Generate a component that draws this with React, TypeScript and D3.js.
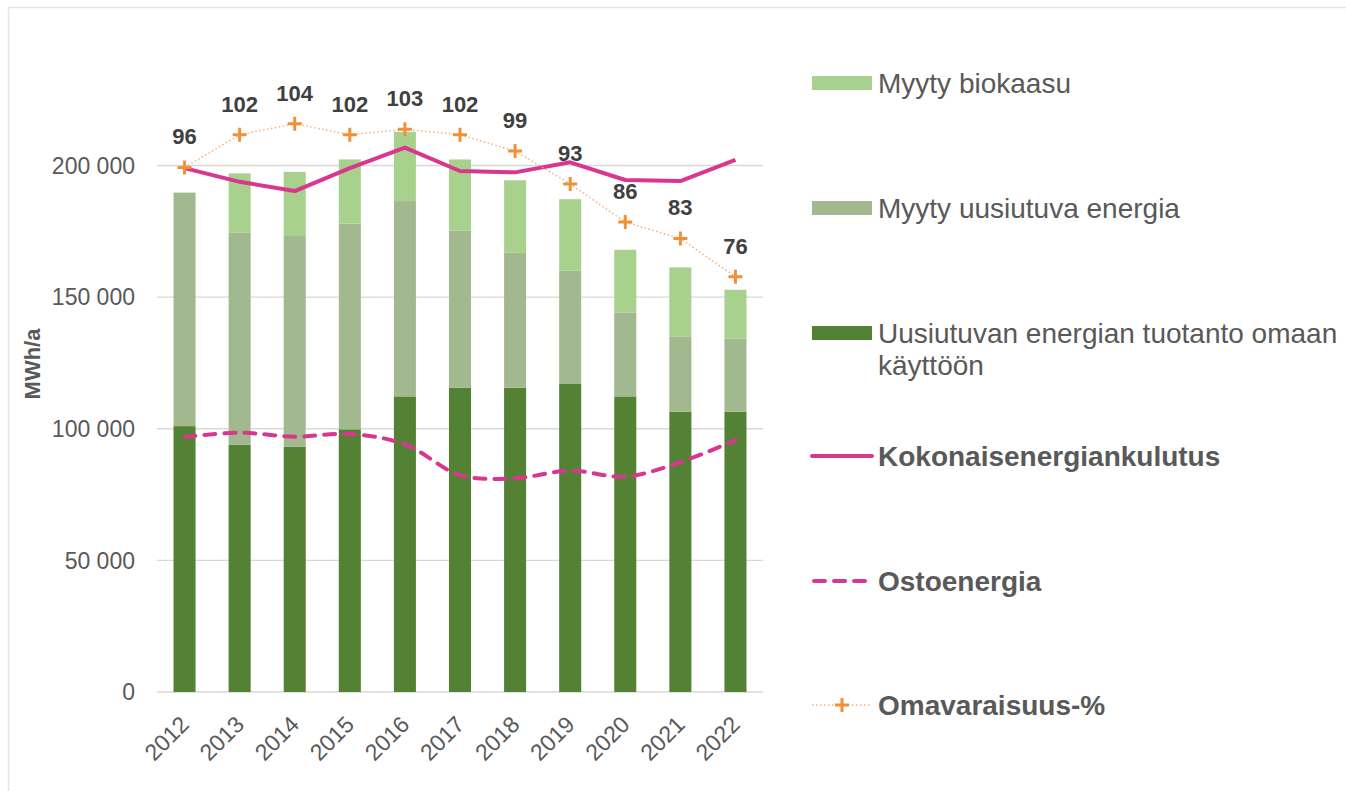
import React from 'react';
import * as d3 from 'd3';

const years = ['2012', '2013', '2014', '2015', '2016', '2017', '2018', '2019', '2020', '2021', '2022'];
// Uusiutuvan energian tuotanto omaan käyttöön
const ownUse = [101000, 94000, 93200, 99800, 112300, 115600, 115600, 117000, 112300, 106500, 106500];
// Myyty uusiutuva energia
const soldRenewable = [88700, 80600, 80000, 78100, 74200, 59600, 51200, 43000, 31900, 28400, 27700];
// Myyty biokaasu
const soldBiogas = [0, 22400, 24400, 24400, 26300, 27100, 27600, 27200, 23800, 26400, 18600];
// Kokonaisenergiankulutus
const totalConsumption = [199000, 193800, 190300, 199000, 206800, 197900, 197400, 201200, 194500, 194100, 202100];
// Ostoenergia
const purchased = [96900, 98500, 97000, 98000, 94100, 82400, 81200, 84100, 81800, 87300, 95700];
// Omavaraisuus-%
const selfSufficiency = [96, 102, 104, 102, 103, 102, 99, 93, 86, 83, 76];

const yTicks = [0, 50000, 100000, 150000, 200000];

const W = 1346;
const H = 791;
const plotLeft = 157;
const plotRight = 763;
const plotBottom = 692;
const yMax = 220000;
const plotTop = plotBottom - (yMax / 100000) * 263.25;

const FONT = "'Liberation Sans', Arial, Helvetica, sans-serif";

const colors = {
  own: '#548235',
  renewable: '#a2b98f',
  biogas: '#a9d18e',
  total: '#d9378f',
  orange: '#f0903a',
  orangeLine: '#f6b07a',
  grid: '#d9d9d9',
  text: '#595959',
  label: '#404040',
};

const fiLocale = d3.formatLocale({ decimal: ',', thousands: ' ', grouping: [3], currency: ['', ''] });
const fmt = fiLocale.format(',d');

export default function App() {
  const x = d3.scaleBand<string>().domain(years).range([plotLeft, plotRight]).paddingInner(0.6).paddingOuter(0.3);
  const xc = (i: number) => (x(years[i]) as number) + x.bandwidth() / 2;
  const y = d3.scaleLinear().domain([0, yMax]).range([plotBottom, plotTop]);
  const y2 = d3.scaleLinear().domain([0, 106]).range([plotBottom, plotTop]);

  const rows = years.map((yr, i) => ({ yr, own: ownUse[i], renewable: soldRenewable[i], biogas: soldBiogas[i] }));
  const keys = ['own', 'renewable', 'biogas'] as const;
  const stack = d3.stack<any>().keys(keys as any)(rows);

  const totalLine = d3.line<number>().x((_, i) => xc(i)).y((d) => y(d))(totalConsumption) as string;
  const purchasedLine = d3
    .line<number>()
    .x((_, i) => xc(i))
    .y((d) => y(d))
    .curve(d3.curveCatmullRom.alpha(0.5))(purchased) as string;
  const selfLine = d3.line<number>().x((_, i) => xc(i)).y((d) => y2(d))(selfSufficiency) as string;

  const legendX = 812;
  const legendTextX = 878;
  const legendFont = 28;

  const plus = (cx: number, cy: number, key: string) => (
    <path
      key={key}
      d={`M${cx - 7},${cy}H${cx + 7}M${cx},${cy - 7}V${cy + 7}`}
      stroke={colors.orange}
      strokeWidth={3}
      fill="none"
    />
  );

  return (
    <svg
      width={W}
      height={H}
      style={{ position: 'absolute', left: 0, top: 0, background: '#fff' }}
      fontFamily={FONT}
    >
      <rect x={0} y={0} width={W} height={H} fill="#fff" />
      <rect x={8.5} y={7.5} width={W + 50} height={H + 50} fill="none" stroke="#e6e6e6" strokeWidth={1.5} />

      {/* gridlines */}
      {yTicks.map((t) => (
        <line key={t} x1={plotLeft} x2={plotRight} y1={y(t)} y2={y(t)} stroke={colors.grid} strokeWidth={1.3} />
      ))}

      {/* y tick labels */}
      {yTicks.map((t) => (
        <text key={'l' + t} x={135} y={y(t)} dy="0.36em" textAnchor="end" fontSize={23} fill={colors.text}>
          {fmt(t)}
        </text>
      ))}

      {/* y title */}
      <text
        transform={`translate(40,364) rotate(-90)`}
        textAnchor="middle"
        fontSize={22}
        fontWeight="bold"
        fill={colors.text}
      >
        MWh/a
      </text>

      {/* bars */}
      {stack.map((series, si) => (
        <g key={si} fill={colors[keys[si]]}>
          {series.map((d, i) =>
            d[1] - d[0] > 0 ? (
              <rect
                key={i}
                x={x(years[i]) as number}
                width={x.bandwidth()}
                y={y(d[1])}
                height={y(d[0]) - y(d[1])}
              />
            ) : null
          )}
        </g>
      ))}

      {/* x labels */}
      {years.map((yr, i) => (
        <text
          key={yr}
          transform={`translate(${xc(i)},720) rotate(-45)`}
          textAnchor="end"
          dy="0.36em"
          fontSize={23}
          fill={colors.text}
        >
          {yr}
        </text>
      ))}

      {/* lines */}
      <path d={purchasedLine} fill="none" stroke={colors.total} strokeWidth={4} strokeDasharray="11 9" strokeLinecap="round" />
      <path d={totalLine} fill="none" stroke={colors.total} strokeWidth={4} strokeLinejoin="round" />
      <path d={selfLine} fill="none" stroke={colors.orangeLine} strokeWidth={1.5} strokeDasharray="1.5 2.5" />
      {selfSufficiency.map((v, i) => plus(xc(i), y2(v), 'm' + i))}
      {selfSufficiency.map((v, i) => (
        <text
          key={'dl' + i}
          x={xc(i)}
          y={y2(v) - 31}
          dy="0.36em"
          textAnchor="middle"
          fontSize={22}
          fontWeight="bold"
          fill={colors.label}
        >
          {v}
        </text>
      ))}

      {/* legend */}
      <rect x={legendX} y={83 - 7} width={60} height={14} fill={colors.biogas} />
      <text x={legendTextX} y={83} dy="0.36em" fontSize={legendFont} fill={colors.text}>Myyty biokaasu</text>

      <rect x={legendX} y={208 - 7} width={60} height={14} fill={colors.renewable} />
      <text x={legendTextX} y={208} dy="0.36em" fontSize={legendFont} fill={colors.text}>Myyty uusiutuva energia</text>

      <rect x={legendX} y={333 - 7} width={60} height={14} fill={colors.own} />
      <text x={legendTextX} y={333} dy="0.36em" fontSize={legendFont} fill={colors.text}>Uusiutuvan energian tuotanto omaan</text>
      <text x={legendTextX} y={365} dy="0.36em" fontSize={legendFont} fill={colors.text}>käyttöön</text>

      <line x1={legendX} x2={legendX + 60} y1={456} y2={456} stroke={colors.total} strokeWidth={4} strokeLinecap="round" />
      <text x={legendTextX} y={456} dy="0.36em" fontSize={legendFont} fontWeight="bold" fill={colors.text}>Kokonaisenergiankulutus</text>

      <line x1={legendX + 2} x2={legendX + 56} y1={581} y2={581} stroke={colors.total} strokeWidth={4} strokeDasharray="11 9" strokeLinecap="round" />
      <text x={legendTextX} y={581} dy="0.36em" fontSize={legendFont} fontWeight="bold" fill={colors.text}>Ostoenergia</text>

      <line x1={legendX} x2={legendX + 60} y1={705} y2={705} stroke={colors.orangeLine} strokeWidth={1.5} strokeDasharray="1.5 2.5" />
      {plus(legendX + 30, 705, 'lp')}
      <text x={legendTextX} y={705} dy="0.36em" fontSize={legendFont} fontWeight="bold" fill={colors.text}>Omavaraisuus-%</text>
    </svg>
  );
}
